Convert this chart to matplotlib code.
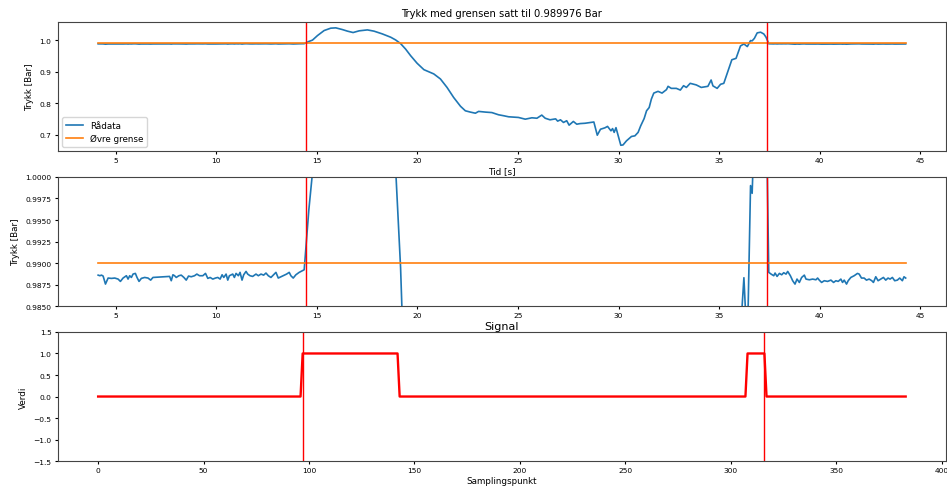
import numpy as np
import matplotlib
matplotlib.use("Agg")
import matplotlib.pyplot as plt
from matplotlib.ticker import MultipleLocator, FormatStrFormatter

# Avlest trykk (tid [s], trykk [Bar])
tid = [
    4.124, 4.207, 4.290, 4.372, 4.488, 4.620, 4.785, 4.950, 5.116, 5.231,
    5.363, 5.529, 5.611, 5.694, 5.777, 5.859, 5.975, 6.057, 6.157, 6.272,
    6.437, 6.603, 6.735, 6.850, 7.677, 7.759, 7.842, 7.924, 8.007, 8.139,
    8.255, 8.387, 8.503, 8.618, 8.751, 8.916, 9.031, 9.163, 9.329, 9.461,
    9.577, 9.692, 9.824, 9.957, 10.072, 10.188, 10.287, 10.370, 10.485, 10.568,
    10.650, 10.816, 10.898, 10.981, 11.097, 11.179, 11.278, 11.361, 11.477, 11.559,
    11.675, 11.807, 11.972, 12.088, 12.220, 12.352, 12.468, 12.584, 12.716, 12.848,
    12.964, 13.079, 13.211, 13.377, 13.492, 13.624, 13.707, 13.823, 13.955, 14.120,
    14.368, 14.60, 14.78, 15.03, 15.36, 15.69, 15.94, 16.27, 16.52, 16.80,
    17.10, 17.51, 17.84, 18.25, 18.67, 18.91, 19.16, 19.41, 19.66, 19.98,
    20.32, 20.56, 20.81, 21.14, 21.47, 21.80, 22.14, 22.38, 22.63, 22.88,
    23.04, 23.38, 23.70, 24.03, 24.28, 24.53, 24.78, 25.02, 25.36, 25.69,
    25.94, 26.18, 26.35, 26.59, 26.87, 26.97, 27.11, 27.26, 27.42, 27.54,
    27.75, 27.92, 28.09, 28.33, 28.77, 28.94, 29.10, 29.32, 29.45, 29.62,
    29.70, 29.78, 29.87, 29.98, 30.11, 30.22, 30.39, 30.64, 30.81, 30.97,
    31.10, 31.27, 31.39, 31.52, 31.63, 31.75, 31.96, 32.16, 32.38, 32.46,
    32.62, 32.87, 33.07, 33.23, 33.37, 33.56, 33.86, 34.11, 34.44, 34.60,
    34.69, 34.90, 35.07, 35.23, 35.43, 35.63, 35.84, 36.06, 36.23, 36.40,
    36.56, 36.64, 36.75, 36.89, 37.06, 37.22, 37.33, 37.466, 37.582, 37.714,
    37.780, 37.879, 37.995, 38.110, 38.209, 38.325, 38.408, 38.540, 38.655, 38.771,
    38.870, 38.986, 39.102, 39.234, 39.316, 39.482, 39.647, 39.812, 39.895, 39.977,
    40.093, 40.225, 40.390, 40.556, 40.688, 40.803, 40.919, 41.051, 41.134, 41.216,
    41.332, 41.415, 41.547, 41.712, 41.877, 41.960, 42.076, 42.208, 42.323, 42.456,
    42.588, 42.670, 42.786, 42.902, 43.034, 43.166, 43.282, 43.397, 43.497, 43.612,
    43.728, 43.860, 43.976, 44.108, 44.190, 44.273,
]
trykk = [
    0.98860, 0.98853, 0.98860, 0.98849, 0.98756, 0.98826, 0.98822, 0.98826, 0.98814, 0.98787,
    0.98826, 0.98853, 0.98814, 0.98853, 0.98833, 0.98872, 0.98880, 0.98833, 0.98787, 0.98822,
    0.98833, 0.98826, 0.98802, 0.98833, 0.98845, 0.98795, 0.98864, 0.98853, 0.98833, 0.98853,
    0.98860, 0.98833, 0.98802, 0.98849, 0.98841, 0.98853, 0.98872, 0.98853, 0.98853, 0.98880,
    0.98822, 0.98833, 0.98814, 0.98826, 0.98833, 0.98814, 0.98864, 0.98833, 0.98872, 0.98802,
    0.98853, 0.98872, 0.98833, 0.98880, 0.98853, 0.98892, 0.98802, 0.98864, 0.98903, 0.98872,
    0.98853, 0.98845, 0.98872, 0.98853, 0.98872, 0.98860, 0.98884, 0.98853, 0.98833, 0.98864,
    0.98892, 0.98826, 0.98841, 0.98860, 0.98872, 0.98892, 0.98853, 0.98826, 0.98864, 0.98892,
    0.98922, 0.9962, 1.0005, 1.015, 1.031, 1.0385, 1.0395, 1.034, 1.029, 1.0246,
    1.030, 1.033, 1.029, 1.0203, 1.0097, 1.0012, 0.9895, 0.972, 0.951, 0.927,
    0.9065, 0.900, 0.893, 0.877, 0.850, 0.818, 0.790, 0.7757, 0.7715, 0.768,
    0.7737, 0.7715, 0.770, 0.763, 0.760, 0.7566, 0.7555, 0.7545, 0.749, 0.7534,
    0.752, 0.762, 0.752, 0.747, 0.750, 0.7428, 0.747, 0.7386, 0.744, 0.730,
    0.7418, 0.733, 0.735, 0.736, 0.740, 0.698, 0.717, 0.7215, 0.726, 0.712,
    0.719, 0.707, 0.722, 0.696, 0.666, 0.667, 0.680, 0.694, 0.696, 0.707,
    0.728, 0.751, 0.7757, 0.786, 0.813, 0.832, 0.8375, 0.832, 0.843, 0.8535,
    0.847, 0.847, 0.8416, 0.8555, 0.850, 0.863, 0.858, 0.850, 0.8535, 0.8736,
    0.855, 0.847, 0.860, 0.863, 0.900, 0.938, 0.9425, 0.982, 0.9883, 0.980,
    0.9990, 0.9981, 1.006, 1.0235, 1.0257, 1.020, 1.0098, 0.98892, 0.98872, 0.98853,
    0.98884, 0.98845, 0.98880, 0.98864, 0.98888, 0.98872, 0.98903, 0.98853, 0.98795, 0.98756,
    0.98814, 0.98775, 0.98833, 0.98860, 0.98814, 0.98806, 0.98814, 0.98806, 0.98826, 0.98802,
    0.98775, 0.98795, 0.98787, 0.98802, 0.98775, 0.98795, 0.98787, 0.98814, 0.98775, 0.98802,
    0.98756, 0.98795, 0.98833, 0.98853, 0.98880, 0.98872, 0.98826, 0.98826, 0.98802, 0.98814,
    0.98795, 0.98775, 0.98841, 0.98795, 0.98814, 0.98833, 0.98802, 0.98826, 0.98814, 0.98833,
    0.98795, 0.98802, 0.98826, 0.98795, 0.98841, 0.98826,
]
grense = 0.989976

# Signal som (verdi, antall samplingspunkter)
signal_runs = [(0, 97), (1, 46), (0, 165), (1, 9), (0, 67)]
signal = []
for verdi, antall in signal_runs:
    signal += [verdi] * antall

tid_linjer = [14.47, 37.38]
sample_linjer = [97, 316]

fs_tick = 5.4
fs_label = 6.3
fs_title = 7.2

fig, axes = plt.subplots(3, 1, figsize=(9.47, 4.89), dpi=100)
plt.subplots_adjust(left=0.061, right=0.999, top=0.953, bottom=0.055, hspace=0.2)

ax = axes[0]
ax.plot(tid, trykk, color="C0", lw=1.2, label="Rådata")
ax.plot([tid[0], tid[-1]], [grense, grense], color="C1", lw=1.2, label="Øvre grense")
for t in tid_linjer:
    ax.axvline(t, color="r", lw=1)
ax.set_title(f"Trykk med grensen satt til {grense} Bar", fontsize=fs_title, pad=4)
ax.set_xlabel("Tid [s]", fontsize=fs_label, labelpad=2)
ax.set_ylabel("Trykk [Bar]", fontsize=fs_label)
ax.legend(loc="lower left", fontsize=fs_label)

ax = axes[1]
ax.plot(tid, trykk, color="C0", lw=1.2)
ax.plot([tid[0], tid[-1]], [grense, grense], color="C1", lw=1.2)
for t in tid_linjer:
    ax.axvline(t, color="r", lw=1)
ax.set_ylim(0.985, 1.0)
ax.yaxis.set_major_locator(MultipleLocator(0.0025))
ax.yaxis.set_major_formatter(FormatStrFormatter("%.4f"))
ax.set_ylabel("Trykk [Bar]", fontsize=fs_label)

ax = axes[2]
ax.plot(np.arange(len(signal)), signal, color="r", lw=1.7)
for s in sample_linjer:
    ax.axvline(s, color="r", lw=1)
ax.set_ylim(-1.5, 1.5)
ax.set_title("Signal", fontsize=fs_title + 0.8, pad=2)
ax.set_xlabel("Samplingspunkt", fontsize=fs_label, labelpad=2)
ax.set_ylabel("Verdi", fontsize=fs_label)

for ax in axes:
    ax.tick_params(labelsize=fs_tick, length=2.5, pad=2)
    for sp in ax.spines.values():
        sp.set_color("#444444")

fig.savefig("out.png", dpi=100)
